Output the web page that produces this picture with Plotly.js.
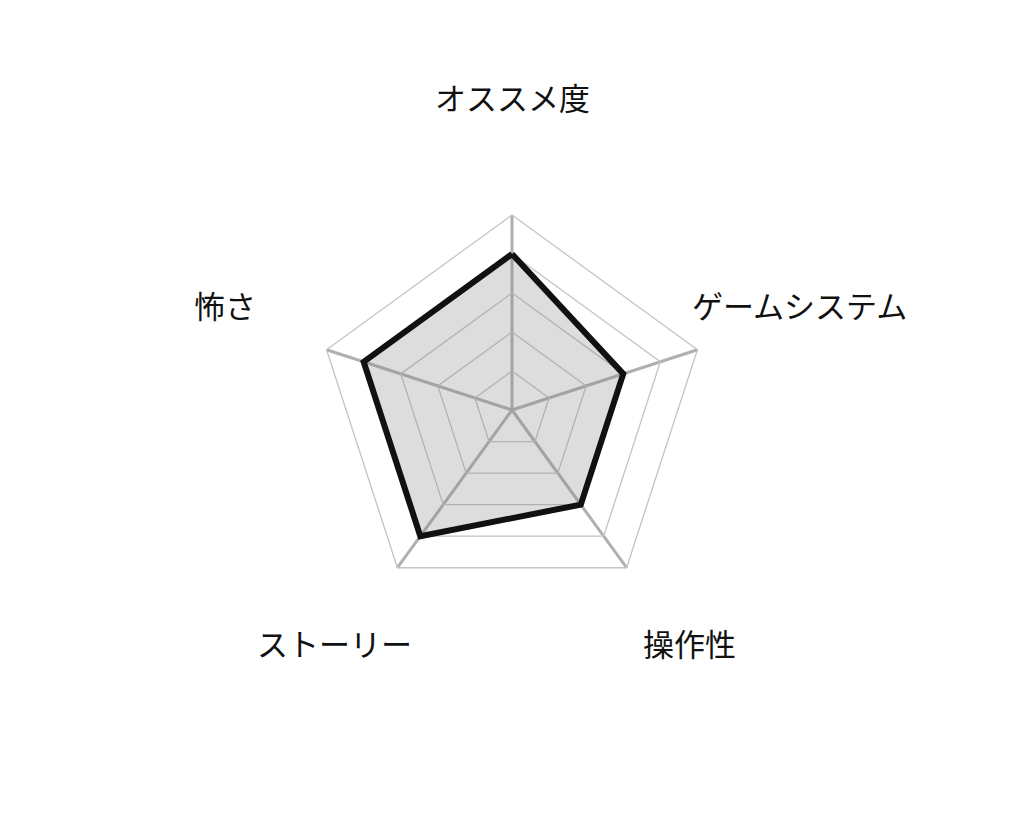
<!DOCTYPE html>
<html>
<head>
<meta charset="utf-8">
<script src="https://cdn.plot.ly/plotly-3.0.1.min.js"></script>
<style>
  body { margin: 0; background: #fff; }
  #chart { width: 1024px; height: 820px; }
</style>
</head>
<body>
<div id="chart"></div>
<script>
// 評価項目と点数 (5点満点)
var categories = ["オススメ度", "ゲームシステム", "操作性", "ストーリー", "怖さ"];
var scores = [4, 3, 3, 4, 4];

// close the polygon
var r = scores.concat([scores[0]]);
var theta = categories.concat([categories[0]]);

var W = 1024, H = 820;
var labelDist = 302; // px from centre to the middle of each label

// labels sit centred on a point out along each spoke
var annotations = categories.map(function (name, i) {
  var a = (90 - i * 360 / categories.length) * Math.PI / 180;
  return {
    text: name,
    xref: "paper", yref: "paper",
    x: 0.5 + labelDist * Math.cos(a) / W,
    y: 0.5 + labelDist * Math.sin(a) / H,
    xanchor: "center", yanchor: "middle",
    yshift: 12, // Noto CJK sits low in its line box
    showarrow: false,
    font: { size: 31, color: "#111111" }
  };
});

var trace = {
  type: "scatterpolar",
  r: r,
  theta: theta,
  mode: "lines",
  fill: "toself",
  fillcolor: "rgba(128,128,128,0.27)",
  line: { color: "#111111", width: 6 },
  hoverinfo: "none"
};

var layout = {
  width: W,
  height: H,
  margin: { l: 0, r: 0, t: 0, b: 0 },
  paper_bgcolor: "#ffffff",
  showlegend: false,
  font: { family: "'Noto Sans CJK JP', sans-serif", color: "#111111" },
  annotations: annotations,
  polar: {
    domain: { x: [0.3096, 0.6904], y: [0.262, 0.738] },
    bgcolor: "rgba(0,0,0,0)",
    gridshape: "linear",
    radialaxis: {
      range: [0, 5],
      dtick: 1,
      showticklabels: false,
      ticks: "",
      showline: false,
      gridcolor: "#c4c4c4",
      gridwidth: 1.3
    },
    angularaxis: {
      direction: "clockwise",
      rotation: 90,
      ticks: "",
      showticklabels: false,
      showline: true,
      linecolor: "#c4c4c4",
      linewidth: 1.3,
      gridcolor: "#b0b0b0",
      gridwidth: 3
    }
  }
};

Plotly.newPlot("chart", [trace], layout, { displayModeBar: false, staticPlot: true });
</script>
</body>
</html>
